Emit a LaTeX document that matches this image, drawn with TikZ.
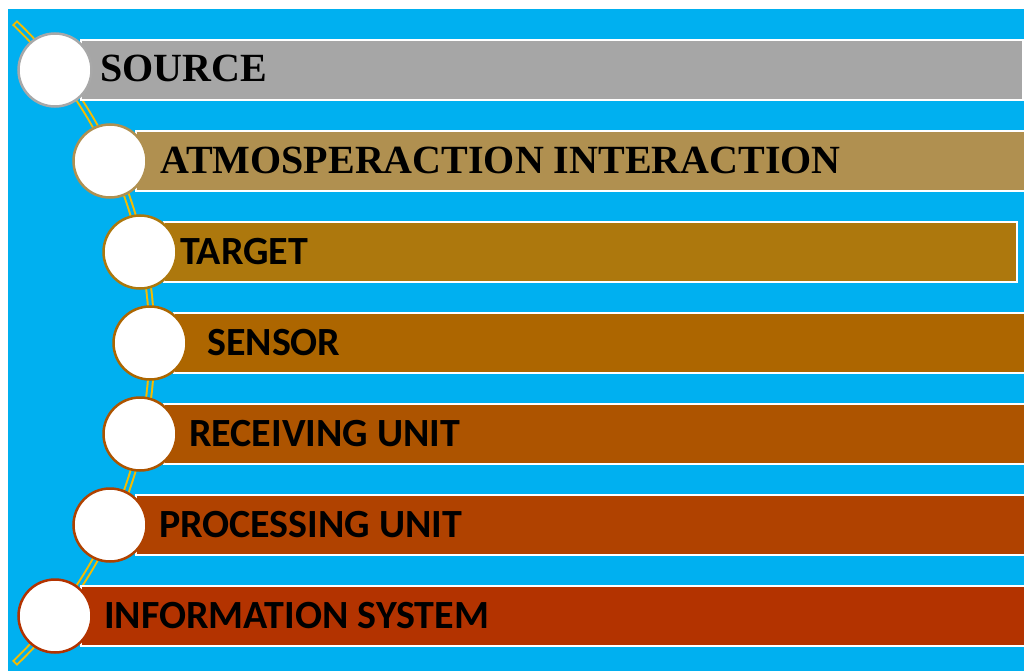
\documentclass[tikz,border=0pt]{standalone}
\usepackage{fontspec}
\newfontfamily\serifbold{Liberation Serif}[BoldFont={* Bold}]
\newfontfamily\sansbold{Carlito}[BoldFont={* Bold}]
\definecolor{skyblue}{RGB}{0,176,240}
\definecolor{linegold}{RGB}{245,188,0}
\definecolor{cSource}{RGB}{166,166,166}
\definecolor{cSourceRim}{RGB}{168,168,168}
\definecolor{cAtmos}{RGB}{176,144,80}
\definecolor{cTarget}{RGB}{173,120,13}
\definecolor{cSensor}{RGB}{173,102,0}
\definecolor{cRecv}{RGB}{173,84,0}
\definecolor{cProc}{RGB}{176,66,0}
\definecolor{cInfo}{RGB}{179,51,0}
\tikzset{
  band/.style={rectangle, fill=#1, draw=white, line width=2.2pt, minimum height=60pt, inner sep=0pt, anchor=west},
  disc/.style={circle, fill=white, draw=#1, line width=2.5pt, minimum size=73pt, inner sep=0pt},
  serifname/.style={anchor=base west, inner sep=0pt, font=\serifbold\bfseries\fontsize{40}{40}\selectfont},
  sansname/.style={anchor=base west, inner sep=0pt, font=\sansbold\bfseries\fontsize{40}{40}\selectfont},
  spine/.style={draw=linegold, line width=2pt, double=skyblue, double distance=3pt, line cap=rect}
}
\begin{document}
\begin{tikzpicture}[x=1pt, y=-1pt]
  \useasboundingbox (0,0) rectangle (1024,671);
  \fill[white] (0,0) rectangle (1024,671);
  \fill[skyblue] (8,9) rectangle (1024,671);
  \begin{scope}
    \clip (8,9) rectangle (1024,671);
    % curved spine through the circle markers
    \coordinate (O) at (-290,343);
    \draw[spine] (O) ++(-46:442) arc[start angle=-46, end angle=46, radius=442];
    % bands
    \node[band=cSource, minimum width=942pt] (b1) at (80,70) {};
    \node[band=cAtmos, minimum width=895pt] (b2) at (135,161) {};
    \node[band=cTarget, minimum width=853pt] (b3) at (163,252) {};
    \node[band=cSensor, minimum width=855pt] (b4) at (173,343) {};
    \node[band=cRecv, minimum width=865pt] (b5) at (163,434) {};
    \node[band=cProc, minimum width=895pt] (b6) at (135,525) {};
    \node[band=cInfo, minimum width=950pt] (b7) at (80,616) {};
  \end{scope}
  % circle markers
  \node[disc=cSourceRim] (c1) at (55,70) {};
  \node[disc=cAtmos] (c2) at (110,161) {};
  \node[disc=cTarget] (c3) at (140,252) {};
  \node[disc=cSensor] (c4) at (150,343) {};
  \node[disc=cRecv] (c5) at (140,434) {};
  \node[disc=cProc] (c6) at (110,525) {};
  \node[disc=cInfo] (c7) at (55,616) {};
  % labels
  \node[serifname] (t1) at (100,82) {SOURCE};
  \node[serifname] (t2) at (160,173) {ATMOSPERACTION INTERACTION};
  \node[sansname] (t3) at (180,264) {TARGET};
  \node[sansname] (t4) at (207,355) {SENSOR};
  \node[sansname] (t5) at (189,446) {RECEIVING UNIT};
  \node[sansname] (t6) at (159,537) {PROCESSING UNIT};
  \node[sansname] (t7) at (104,628) {INFORMATION SYSTEM};
\end{tikzpicture}
\end{document}
